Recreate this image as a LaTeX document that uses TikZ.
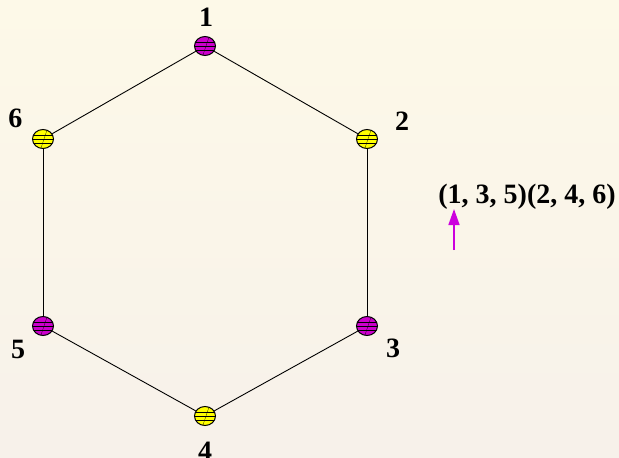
\documentclass[tikz,border=0pt]{standalone}
\usepackage{fontspec}
\setmainfont{Liberation Serif}
\usepackage{xcolor}
\usepackage{tikz}
\usetikzlibrary{arrows.meta,shapes.geometric}
\definecolor{bgtop}{HTML}{FDF9E8}
\definecolor{bgbot}{HTML}{F7F1EA}
\definecolor{ballpurple}{HTML}{CC00CC}
\definecolor{ballyellow}{HTML}{FFFF00}
\definecolor{arrowmagenta}{HTML}{CC00DD}

\begin{document}
\begin{tikzpicture}[x=1pt, y=-1pt,
  ball/.style={ellipse, draw, line width=1pt, minimum width=21pt, minimum height=19pt, inner sep=0pt,
    path picture={
      \foreach \d in {-4,0,4}
        \draw[line width=0.3pt] ([yshift=\d pt]path picture bounding box.west) -- ([yshift=\d pt]path picture bounding box.east);
      \draw[line width=0.3pt] ([shift={(-2pt,-9pt)}]path picture bounding box.center) -- ([shift={(4pt,9pt)}]path picture bounding box.center);
    }},
  oddball/.style={ball, fill=ballpurple},
  evenball/.style={ball, fill=ballyellow},
  lab/.style={font=\bfseries\fontsize{28}{28}\selectfont, inner sep=0pt},
  side/.style={line width=0.9pt},
  arr/.style={-{Triangle[length=16pt, width=11pt]}, line width=1.6pt, draw=arrowmagenta},
]
\useasboundingbox (0,0) rectangle (619,458);
\fill[top color=bgtop, bottom color=bgbot] (0,0) rectangle (619,458);
% the six vertices
\node[oddball] (n1) at (205,46) {};
\node[evenball] (n2) at (367,139) {};
\node[oddball] (n3) at (367,326) {};
\node[evenball] (n4) at (205,416) {};
\node[oddball] (n5) at (43,326) {};
\node[evenball] (n6) at (43,139) {};
\draw[side] (n1) -- (n2);
\draw[side] (n2) -- (n3);
\draw[side] (n3) -- (n4);
\draw[side] (n4) -- (n5);
\draw[side] (n5) -- (n6);
\draw[side] (n6) -- (n1);
% labels
\node[lab] (l1) at (206,17) {1};
\node[lab] (l2) at (402,121) {2};
\node[lab] (l3) at (393,348) {3};
\node[lab] (l4) at (205,451) {4};
\node[lab] (l5) at (18,349) {5};
\node[lab] (l6) at (15.5,118.5) {6};
% the permutation
\node[lab, anchor=base] (perm) at (527,203) {(1, 3, 5)(2, 4, 6)};
\coordinate (tip) at (454,209);
\coordinate (foot) at (454,250);
\draw[arr] (foot) -- (tip);
\end{tikzpicture}
\end{document}
